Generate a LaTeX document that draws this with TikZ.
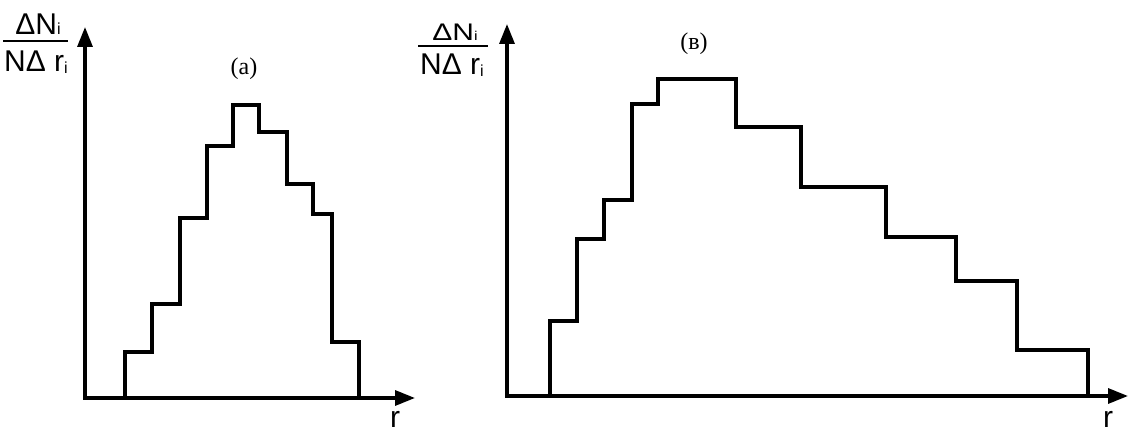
\documentclass[tikz,border=0pt]{standalone}
\usepackage{fontspec}
\setmainfont{Liberation Serif}
\setsansfont{Liberation Sans}
\usepackage{tikz}
\usetikzlibrary{arrows.meta}
\newcommand{\lowi}[2][0pt]{\raisebox{#1}{\fontsize{16}{16}\selectfont #2}}
\tikzset{
	axlabel/.style={font=\sffamily\fontsize{30}{30}\selectfont, inner sep=0pt, anchor=base},
	panellabel/.style={font=\fontsize{24}{24}\selectfont, inner sep=0pt},
	axisline/.style={line width=1.15mm, {Triangle[length=20pt,width=15pt]}-{Triangle[length=20pt,width=15pt]}},
	histline/.style={line width=1.15mm, line join=miter}
}

\begin{document}
\begin{tikzpicture}[x=1pt, y=-1pt]
			%%%%% START %%%%%
			\useasboundingbox (0, 0) rectangle (1144, 446);
			
			% panel (a)
			\draw[axisline] (85, 27) |- (415, 398);
			\draw[histline] (125, 398) |- (152, 352) |- (180, 304) |- (207, 218) |- (233, 146) |- (259, 105)
				|- (287, 132) |- (313, 184) |- (332, 214) |- (359, 342) -- (359, 398);
			
			\node[axlabel] (numA) at (38, 35) {ΔN\lowi{i}};
			\draw[line width=0.7mm] (3, 41) -- (68, 41);
			\node[axlabel] (denA) at (36, 72) {NΔ r\lowi[-2pt]{i}};
			\node[axlabel] (rA) at (395, 428) {r};
			\node[panellabel] (capA) at (244, 69) {(a)};
			
			% panel (в)
			\draw[axisline] (507, 24) |- (1128, 396);
			\draw[histline] (550, 396) |- (577, 321) |- (604, 239) |- (632, 200) |- (658, 104) |- (736, 79)
				|- (801, 127) |- (886, 187) |- (956, 237) |- (1017, 281) |- (1088, 350) -- (1088, 396);
			
			\node[axlabel] (numB) at (455, 41) {\scalebox{1}[0.8]{ΔN\lowi{i}}};
			\draw[line width=0.7mm] (418, 46) -- (488, 46);
			\node[axlabel] (denB) at (452, 75) {NΔ r\lowi[-2pt]{i}};
			\node[axlabel] (rB) at (1108, 428) {r};
			\node[panellabel] (capB) at (694, 44) {(в)};
			
			%%%%% END %%%%%
\end{tikzpicture}
\end{document}
